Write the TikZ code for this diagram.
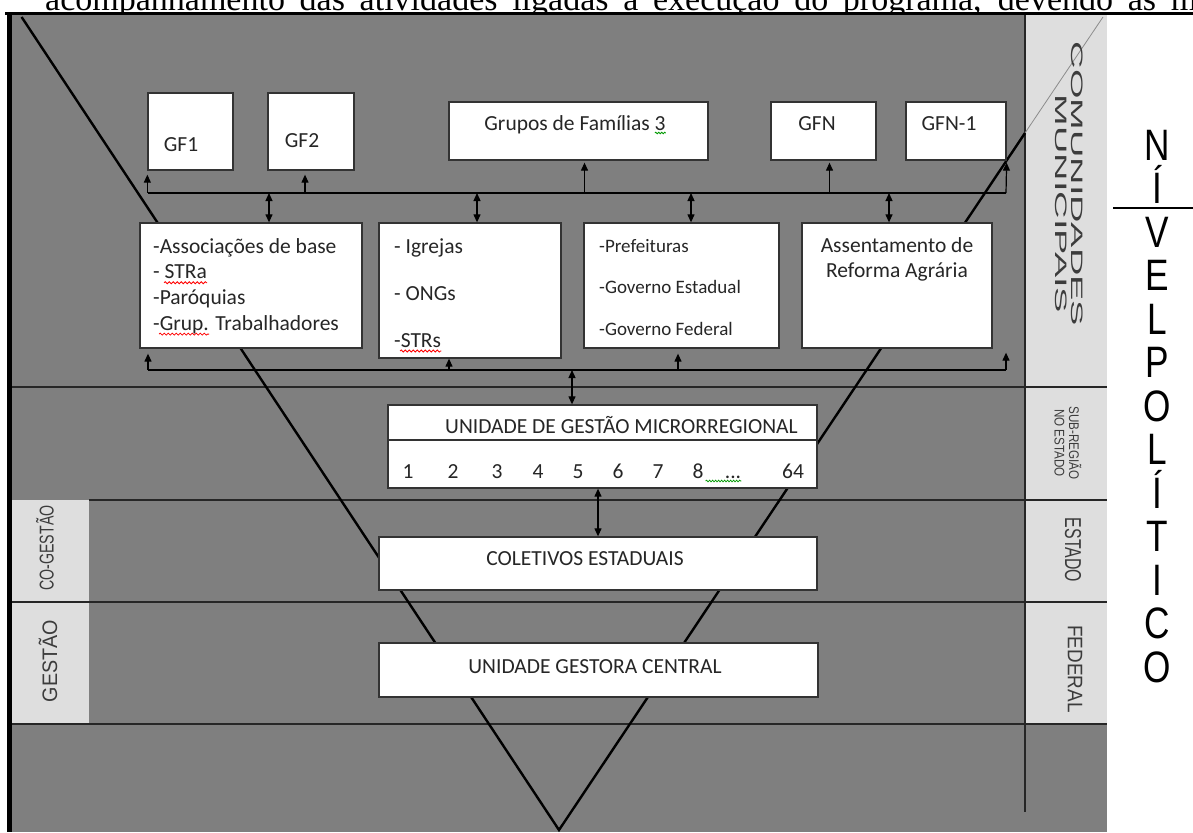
\documentclass[tikz,border=0pt]{standalone}
\usepackage{fontspec}
\setmainfont{Liberation Serif}
\newfontfamily\caixafont{Carlito}
\newfontfamily\rotulofont{Liberation Sans}
\usetikzlibrary{arrows.meta,decorations.pathmorphing}
\definecolor{fundo}{RGB}{127,127,127}
\definecolor{faixa}{RGB}{222,222,222}
\definecolor{rotulo}{RGB}{60,60,60}

\begin{document}
\begin{tikzpicture}[x=1pt,y=-1pt,
    caixa/.style={draw=black!80, line width=1.3pt, fill=white, inner sep=0pt},
    texto/.style={font=\caixafont\fontsize{21.5}{24}\selectfont, text=black!85, inner sep=0pt},
    seta/.style={-{Triangle[length=8pt,width=7pt]}, line width=1.2pt},
    setadupla/.style={{Triangle[length=8pt,width=7pt]}-{Triangle[length=8pt,width=7pt]}, line width=1.2pt},
    divisa/.style={line width=2pt, black!85},
    onda/.style={decorate, decoration={snake, amplitude=1pt, segment length=4pt}, line width=0.8pt}]

    \useasboundingbox (0,0) rectangle (1193,832);
    \clip (0,0) rectangle (1193,832);

    \node[anchor=base west, inner sep=0pt, font=\fontsize{34}{40}\selectfont] (pagina) at (45,11)
        {\makebox[1152pt][s]{acompanhamento das atividades ligadas à execução do programa, devendo as m}};

    \fill[fundo] (11,15) rectangle (1107,832);
    \fill[faixa] (1025,15) rectangle (1107,724);
    \fill[faixa] (12,500) rectangle (89,724);

    \draw[divisa] (12,387) -- (1107,387);
    \draw[divisa] (89,500) -- (1107,500);
    \draw[divisa] (12,602) -- (1107,602);
    \draw[divisa] (12,724) -- (1107,724);
    \draw[divisa] (1025,15) -- (1025,812);

    \draw[line width=4.4pt] (9.5,13) -- (9.5,832);
    \draw[line width=3pt] (5,14) -- (1193,14);

    \coordinate (vertice) at (559,830);
    \draw[line width=2.4pt] (21.6,17) -- (vertice) -- (1025,133);
    \draw[line width=0.8pt, black!45] (1025,133) -- (1103,17);

    % rotulos laterais
    \node[rotate=-90, inner sep=0pt, text=rotulo, font=\rotulofont\fontsize{16.5}{18}\selectfont\addfontfeature{FakeStretch=2.3}] (comunidades) at (1077,184) {COMUNIDADES};
    \node[rotate=-90, inner sep=0pt, text=rotulo, font=\rotulofont\fontsize{16.5}{18}\selectfont\addfontfeature{FakeStretch=2.3}] (municipais) at (1061,204) {MUNICIPAIS};
    \node[rotate=-90, inner sep=0pt, align=center, text=rotulo, font=\rotulofont\fontsize{14}{14.5}\selectfont\addfontfeature{FakeStretch=0.83}] (subregiao) at (1068,443) {SUB-REGIÃO\\NO ESTADO};
    \node[rotate=-90, inner sep=0pt, text=rotulo, font=\rotulofont\fontsize{23}{26}\selectfont\addfontfeature{FakeStretch=0.69}] (estado) at (1073,550) {ESTADO};
    \node[rotate=-90, inner sep=0pt, text=rotulo, font=\rotulofont\fontsize{21}{24}\selectfont\addfontfeature{FakeStretch=0.9}] (federal) at (1075,669) {FEDERAL};
    \node[rotate=90, inner sep=0pt, text=rotulo, font=\rotulofont\fontsize{20}{24}\selectfont\addfontfeature{FakeStretch=0.71}] (cogestao) at (45,548) {CO-GESTÃO};
    \node[rotate=90, inner sep=0pt, text=rotulo, font=\rotulofont\fontsize{21}{24}\selectfont\addfontfeature{FakeStretch=0.94}] (gestao) at (48,661) {GESTÃO};

    \foreach \c [count=\i] in {N,Í,V,E,L,P,O,L,Í,T,I,C,O}
        \node[anchor=base, inner sep=0pt, font=\rotulofont\fontsize{44}{48}\selectfont\addfontfeature{FakeStretch=0.8}] (nivel\i) at (1157,{160+43.5*(\i-1)}) {\c};
    \draw[line width=1.5pt] (1113,208) -- (1193,208);

    % caixas
    \node[caixa, minimum width=85, minimum height=77] (gf1) at (190.5,131.5) {};
    \node[caixa, minimum width=86, minimum height=77] (gf2) at (311,131.5) {};
    \node[caixa, minimum width=259, minimum height=58] (grupos) at (578.5,131) {};
    \node[caixa, minimum width=105, minimum height=58] (gfn) at (823.5,131) {};
    \node[caixa, minimum width=100, minimum height=58] (gfn1) at (956,131) {};

    \node[caixa, minimum width=222, minimum height=125] (assoc) at (251,285.5) {};
    \node[caixa, minimum width=182, minimum height=135] (igrejas) at (470,290.5) {};
    \node[caixa, minimum width=195, minimum height=125] (pref) at (681.5,285.5) {};
    \node[caixa, minimum width=190, minimum height=125] (assent) at (897,285.5) {};

    \node[caixa, minimum width=429, minimum height=35] (ugm) at (602.5,422.5) {};
    \node[caixa, minimum width=429, minimum height=48] (ugmnum) at (602.5,464) {};
    \node[caixa, minimum width=438, minimum height=53] (ce) at (598,563.5) {};
    \node[caixa, minimum width=439, minimum height=54] (ugc) at (598.5,670) {};

    % textos
    \node[texto, anchor=base] (gf1t) at (181,151) {GF1};
    \node[texto, anchor=base] (gf2t) at (302,147) {GF2};
    \node[texto, anchor=base] (grupost) at (575,130) {Grupos de Famílias 3};
    \node[texto, anchor=base] (gfnt) at (817,130) {GFN};
    \node[texto, anchor=base] (gfn1t) at (949,130) {GFN-1};

    \foreach \t [count=\i] in {-Associações de base,- STRa,-Paróquias,-Grup. Trabalhadores}
        \node[texto, anchor=base west] (as\i) at (153,{253+25.7*(\i-1)}) {\t};
    \foreach \t [count=\i] in {- Igrejas,- ONGs,-STRs}
        \node[texto, anchor=base west] (ig\i) at (394,{253+47*(\i-1)}) {\t};
    \foreach \t [count=\i] in {-Prefeituras,-Governo Estadual,-Governo Federal}
        \node[texto, anchor=base west, font=\caixafont\fontsize{19}{22}\selectfont] (pr\i) at (599,{252+41.5*(\i-1)}) {\t};
    \node[texto, anchor=base] (ar1) at (897,252) {Assentamento de};
    \node[texto, anchor=base] (ar2) at (897,277) {Reforma Agrária};

    \node[texto, anchor=base west] (ugmt) at (445,433) {UNIDADE DE GESTÃO MICRORREGIONAL};
    \foreach \n/\px in {1/408,2/453,3/497,4/538,5/578,6/618,7/658,8/698}
        \node[texto, anchor=base] (num\n) at (\px,478) {\n};
    \node[texto, anchor=base] (pontos) at (733,478) {...};
    \node[texto, anchor=base] (num64) at (793,478) {64};
    \node[texto, anchor=base] (cet) at (585,565) {COLETIVOS ESTADUAIS};
    \node[texto, anchor=base] (ugct) at (595,673) {UNIDADE GESTORA CENTRAL};

    \draw[onda, red] ([xshift=11pt,yshift=-4pt]as2.base west) -- ([yshift=-4pt]as2.base east);
    \draw[onda, red] ([xshift=6pt,yshift=-4pt]as4.base west) -- ([xshift=56pt,yshift=-4pt]as4.base west);
    \draw[onda, red] ([xshift=6pt,yshift=-4pt]ig3.base west) -- ([yshift=-4pt]ig3.base east);
    \draw[onda, green!60!black, decoration={amplitude=0.8pt, segment length=3pt}] ([xshift=-11pt,yshift=-3pt]grupost.base east) -- ([yshift=-3pt]grupost.base east);
    \draw[onda, green!60!black, decoration={amplitude=0.8pt, segment length=3pt}] ([xshift=2pt,yshift=-3pt]num8.base east) -- ([yshift=-3pt]pontos.base east);

    % ligacoes
    \coordinate (barraE) at (148,193);
    \coordinate (barraD) at (1006,193);
    \draw[line width=1.2pt] (barraE) -- (barraD);
    \draw[seta, shorten >=4pt] (gf1.south west |- barraE) -- (gf1.south west);
    \draw[seta, shorten >=4pt] ([xshift=-6pt]gf2.south |- barraE) -- ([xshift=-6pt]gf2.south);
    \draw[seta, shorten >=2pt] ([xshift=6pt]grupos.south |- barraE) -- ([xshift=6pt]grupos.south);
    \draw[seta, shorten >=2pt] ([xshift=6pt]gfn.south |- barraE) -- ([xshift=6pt]gfn.south);
    \draw[seta, shorten >=2pt] (barraD) -- (gfn1.south east);

    \coordinate (d1) at (269,193);
    \coordinate (d2) at (477,193);
    \coordinate (d3) at (691,193);
    \coordinate (d4) at (889,193);
    \draw[setadupla] (d1) -- (d1 |- assoc.north);
    \draw[setadupla] (d2) -- (d2 |- igrejas.north);
    \draw[setadupla] (d3) -- (d3 |- pref.north);
    \draw[setadupla] (d4) -- (d4 |- assent.north);

    \coordinate (baseE) at (148,370);
    \coordinate (baseD) at (1006,370);
    \draw[line width=1.2pt] (baseE) -- (baseD);
    \draw[seta, shorten >=5pt] (baseE) -- (baseE |- assoc.south);
    \draw[seta] ([xshift=-21pt]igrejas.south |- baseE) -- ([xshift=-21pt]igrejas.south);
    \draw[seta, shorten >=5pt] ([xshift=-3.5pt]pref.south |- baseE) -- ([xshift=-3.5pt]pref.south);
    \draw[seta, shorten >=4pt] (baseD) -- (baseD |- assent.south);

    \coordinate (d5) at (572,370);
    \draw[setadupla] (d5) -- (d5 |- ugm.north);
    \draw[setadupla] (ce.north |- ugmnum.south) -- (ce.north);

\end{tikzpicture}
\end{document}
